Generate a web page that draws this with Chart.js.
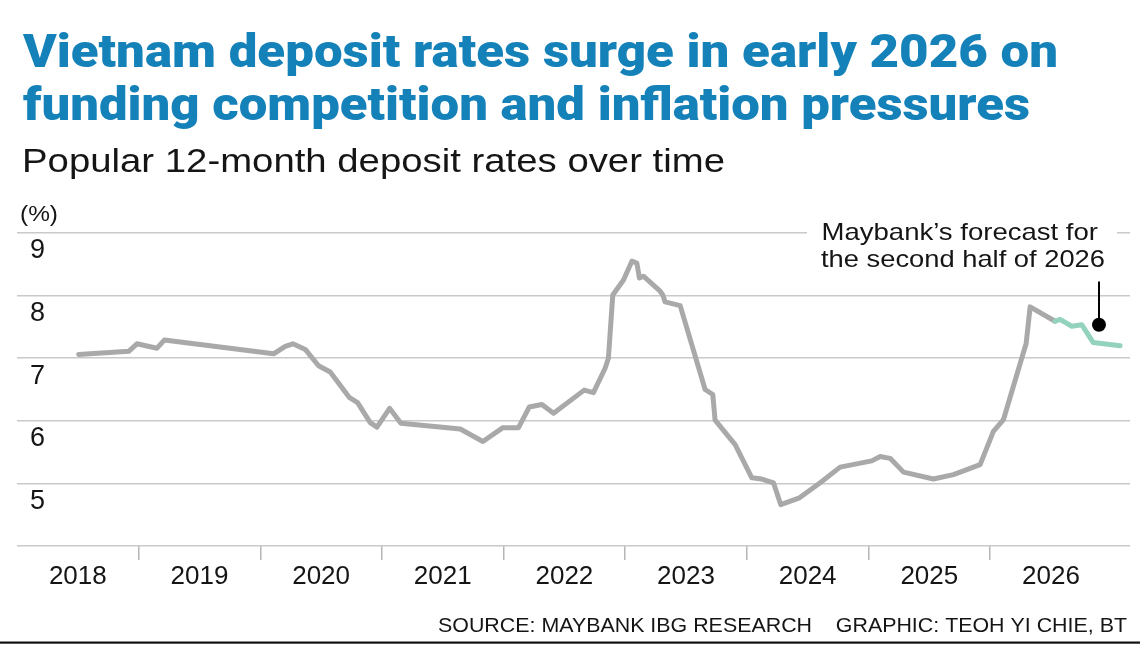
<!DOCTYPE html>
<html>
<head>
<meta charset="utf-8">
<script src="https://cdn.jsdelivr.net/npm/chart.js@4.4.1/dist/chart.umd.min.js"></script>
<style>
  html, body { margin: 0; padding: 0; background: #ffffff; }
  #wrap { position: relative; width: 1140px; height: 646px; }
  canvas { display: block; }
</style>
</head>
<body>
<div id="wrap"><canvas id="c" width="1140" height="646"></canvas></div>
<script>
// ---------- DATA ----------
const titleLines = [
  'Vietnam deposit rates surge in early 2026 on',
  'funding competition and inflation pressures'
];
const subtitle = 'Popular 12-month deposit rates over time';
const unitLabel = '(%)';
const sourceText = 'SOURCE: MAYBANK IBG RESEARCH    GRAPHIC: TEOH YI CHIE, BT';
const annotationLines = ['Maybank\u2019s forecast for', 'the second half of 2026'];

const yearLabels = ['2018', '2019', '2020', '2021', '2022', '2023', '2024', '2025', '2026'];
const yTickLabels = ['5', '6', '7', '8', '9'];

// Actual rates (decimal year, %)
const histDates = [
  2018.507, 2018.918, 2018.986, 2019.151, 2019.211, 2020.110, 2020.205, 2020.268,
  2020.370, 2020.479, 2020.575, 2020.734, 2020.800, 2020.904, 2020.959, 2021.063,
  2021.156, 2021.644, 2021.830, 2021.995, 2022.123, 2022.211, 2022.315, 2022.411,
  2022.663, 2022.739, 2022.835, 2022.862, 2022.898, 2022.986, 2023.055, 2023.096,
  2023.117, 2023.150, 2023.287, 2023.309, 2023.328, 2023.452, 2023.657, 2023.720,
  2023.739, 2023.904, 2024.041, 2024.123, 2024.219, 2024.279, 2024.433, 2024.603,
  2024.767, 2025.027, 2025.096, 2025.178, 2025.288, 2025.534, 2025.699, 2025.918,
  2026.027, 2026.110, 2026.274, 2026.296, 2026.329, 2026.534
];
const histRates = [
  7.06, 7.11, 7.23, 7.16, 7.29, 7.07, 7.19, 7.23,
  7.14, 6.88, 6.78, 6.37, 6.29, 5.97, 5.90, 6.20,
  5.96, 5.87, 5.67, 5.89, 5.89, 6.22, 6.26, 6.12,
  6.49, 6.45, 6.84, 7.00, 8.01, 8.25, 8.55, 8.52,
  8.28, 8.31, 8.07, 8.01, 7.90, 7.84, 6.50, 6.42,
  6.01, 5.62, 5.09, 5.07, 5.01, 4.66, 4.77, 5.01,
  5.26, 5.36, 5.43, 5.40, 5.18, 5.07, 5.14, 5.30,
  5.83, 6.02, 7.09, 7.23, 7.82, 7.59
];
// Forecast path (green)
const fcDates = [2026.534, 2026.575, 2026.671, 2026.753, 2026.848, 2027.068];
const fcRates = [7.59, 7.62, 7.51, 7.535, 7.25, 7.20];
// Marker for the second-half-2026 forecast
const markerDates = [2026.895];
const markerRates = [7.535];

// ---------- STYLE ----------
const GRAY = '#a9a9a9';
const GREEN = '#93d3bd';
const GRID = '#c9c9c9';
const BLUE = '#1581b9';
const TEXT = '#151515';
const BODY_FONT = '"Liberation Sans", Arial, sans-serif';

const toPts = (xs, ys) => xs.map((x, i) => ({ x: x, y: ys[i] }));

function fitText(ctx, text, x, baseline, targetW, font, color, align) {
  ctx.save();
  ctx.font = font;
  ctx.fillStyle = color;
  ctx.textBaseline = 'alphabetic';
  ctx.textAlign = 'left';
  const w = ctx.measureText(text).width;
  const s = targetW / w;
  const left = align === 'right' ? x - targetW : x;
  ctx.translate(left, baseline);
  ctx.scale(s, 1);
  ctx.fillText(text, 0, 0);
  ctx.restore();
}

const decor = {
  id: 'decor',
  beforeDatasetsDraw(chart) {
    const ctx = chart.ctx;
    const xs = chart.scales.x, ys = chart.scales.y;
    ctx.save();
    ctx.fillStyle = '#ffffff';
    ctx.fillRect(807, 214, 310, 58);
    const mx = xs.getPixelForValue(markerDates[0]);
    const my = ys.getPixelForValue(markerRates[0]);
    ctx.strokeStyle = '#000000';
    ctx.lineWidth = 2;
    ctx.beginPath();
    ctx.moveTo(mx, 281.5);
    ctx.lineTo(mx, my);
    ctx.stroke();
    ctx.restore();
  },
  afterDraw(chart) {
    const ctx = chart.ctx;
    fitText(ctx, titleLines[0], 23, 66.5, 1035, '900 47px Roboto, sans-serif', BLUE);
    fitText(ctx, titleLines[1], 23, 120, 1007, '900 47px Roboto, sans-serif', BLUE);
    fitText(ctx, subtitle, 22, 172, 703, '33px ' + BODY_FONT, TEXT);
    fitText(ctx, unitLabel, 20, 221, 38, '22px ' + BODY_FONT, TEXT);
    fitText(ctx, annotationLines[0], 821.5, 240, 276.5, '24px ' + BODY_FONT, TEXT);
    fitText(ctx, annotationLines[1], 821, 266.5, 284, '24px ' + BODY_FONT, TEXT);
    fitText(ctx, sourceText, 1127, 631.5, 689, '21px ' + BODY_FONT, TEXT, 'right');
    ctx.save();
    ctx.fillStyle = '#111111';
    ctx.fillRect(0, 641.5, 1140, 2.2);
    ctx.restore();
  }
};

new Chart(document.getElementById('c'), {
  type: 'line',
  data: {
    datasets: [
      {
        label: 'Marker',
        type: 'scatter',
        data: toPts(markerDates, markerRates),
        pointRadius: 7,
        pointHoverRadius: 7,
        pointBackgroundColor: '#000000',
        pointBorderWidth: 0,
        order: 0
      },
      {
        label: 'Popular 12-month deposit rate',
        data: toPts(histDates, histRates),
        borderColor: GRAY,
        borderWidth: 5,
        borderJoinStyle: 'round',
        borderCapStyle: 'round',
        pointRadius: 0,
        tension: 0,
        fill: false,
        order: 2
      },
      {
        label: 'Forecast',
        data: toPts(fcDates, fcRates),
        borderColor: GREEN,
        borderWidth: 5,
        borderJoinStyle: 'round',
        borderCapStyle: 'round',
        pointRadius: 0,
        tension: 0,
        fill: false,
        order: 1
      }
    ]
  },
  options: {
    responsive: false,
    animation: false,
    devicePixelRatio: 1,
    layout: { padding: { left: 17, right: 10, top: 233, bottom: 40 } },
    plugins: { legend: { display: false }, tooltip: { enabled: false } },
    scales: {
      x: {
        type: 'linear',
        min: 2018,
        max: 2027.15,
        afterBuildTicks(scale) {
          const t = [];
          yearLabels.forEach((_, i) => {
            if (i > 0) t.push({ value: 2018 + i });
            t.push({ value: 2018 + i + 0.5 });
          });
          scale.ticks = t;
        },
        afterFit(scale) { scale.height = 60; },
        border: { display: false },
        grid: {
          drawOnChartArea: false,
          drawTicks: true,
          tickLength: 14,
          lineWidth: 1.5,
          color: (c) => (c.tick && Number.isInteger(c.tick.value)) ? '#b5b5b5' : 'rgba(0,0,0,0)'
        },
        ticks: {
          autoSkip: false,
          maxRotation: 0,
          padding: 1,
          color: TEXT,
          font: { family: BODY_FONT, size: 26 },
          callback: (v) => Number.isInteger(v) ? '' : yearLabels[Math.floor(v) - 2018]
        }
      },
      y: {
        type: 'linear',
        min: 4,
        max: 9,
        afterFit(scale) { scale.width = 0; },
        border: { display: false },
        grid: { color: GRID, lineWidth: 1.5, drawTicks: false },
        ticks: {
          stepSize: 1,
          mirror: true,
          padding: 13,
          labelOffset: 18,
          color: TEXT,
          font: { family: BODY_FONT, size: 27 },
          callback: (v) => yTickLabels.includes(String(v)) ? String(v) : ''
        }
      }
    }
  },
  plugins: [decor]
});
</script>
</body>
</html>
